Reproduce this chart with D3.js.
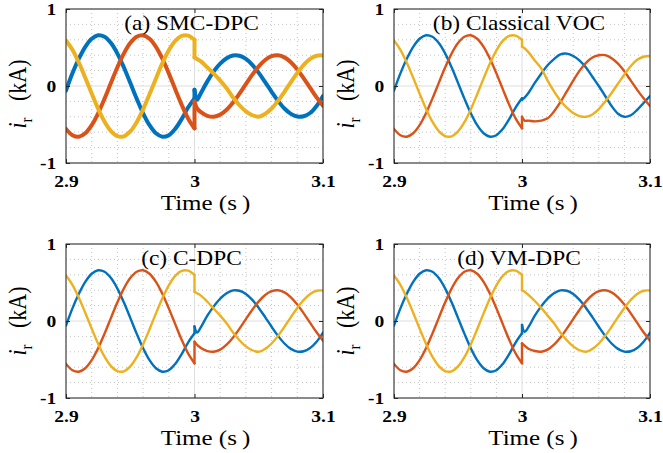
<!DOCTYPE html>
<html>
<head>
<meta charset="utf-8">
<script src="https://cdn.jsdelivr.net/npm/d3@7"></script>
<style>
  body { margin: 0; background: #fff; }
  svg { display: block; }
  text { font-family: "Liberation Serif", "Times New Roman", serif; fill: #000; }
</style>
</head>
<body>
<svg id="chart" width="663" height="453"></svg>
<script>
// time stamps (s) of the read-off points, before and after the step at t = 3 s
var timeBefore = [2.9, 2.905, 2.91, 2.915, 2.92, 2.925, 2.93, 2.935, 2.94, 2.945, 2.95,
  2.955, 2.96, 2.965, 2.97, 2.975, 2.98, 2.985, 2.99, 2.995, 3.0];
var timeAfter = [3.0, 3.002, 3.005, 3.01, 3.015, 3.02, 3.025, 3.03, 3.035, 3.04, 3.045,
  3.05, 3.055, 3.06, 3.065, 3.07, 3.075, 3.08, 3.085, 3.09, 3.095, 3.1];

// rotor currents before the step (same in all four cases), kA
var blueBefore = [-0.06, 0.164, 0.354, 0.509, 0.614, 0.659, 0.639, 0.557, 0.421, 0.243, 0.041,
  -0.164, -0.354, -0.509, -0.614, -0.659, -0.639, -0.557, -0.43, -0.28, -0.16];
var orangeBefore = [-0.557, -0.639, -0.659, -0.614, -0.509, -0.354, -0.164, 0.041, 0.243, 0.421, 0.557,
  0.639, 0.659, 0.614, 0.509, 0.354, 0.164, -0.041, -0.243, -0.421, -0.55];
var yellowBefore = [0.59, 0.47, 0.303, 0.107, -0.099, -0.296, -0.464, -0.586, -0.651, -0.653, -0.59,
  -0.47, -0.303, -0.107, 0.099, 0.296, 0.464, 0.586, 0.651, 0.655, 0.6];

// (a) SMC-DPC after the step
var blueAfterA = [-0.05, -0.18, -0.09, 0.06, 0.19, 0.29, 0.36, 0.397, 0.393, 0.351, 0.274,
  0.17, 0.05, -0.075, -0.193, -0.292, -0.362, -0.397, -0.393, -0.351, -0.26, -0.13];
var orangeAfterA = [-0.2, -0.29, -0.34, -0.387, -0.399, -0.372, -0.308, -0.214, -0.099, 0.025, 0.147,
  0.255, 0.338, 0.387, 0.399, 0.372, 0.308, 0.214, 0.099, -0.025, -0.147, -0.255];
var yellowAfterA = [0.37, 0.35, 0.32, 0.24, 0.16, 0.07, -0.03, -0.15, -0.25, -0.33, -0.38,
  -0.40, -0.362, -0.292, -0.193, -0.075, 0.05, 0.17, 0.274, 0.351, 0.393, 0.397];

// (b) Classical VOC
var blueAfterB = [-0.18, -0.15, -0.09, 0.04, 0.16, 0.27, 0.35, 0.41, 0.42, 0.39, 0.33,
  0.24, 0.12, 0.0, -0.13, -0.26, -0.36, -0.4, -0.38, -0.31, -0.22, -0.13];
var orangeAfterB = [-0.40, -0.45, -0.45, -0.46, -0.45, -0.42, -0.33, -0.21, -0.07, 0.07, 0.2,
  0.3, 0.37, 0.4, 0.4, 0.36, 0.29, 0.19, 0.07, -0.05, -0.16, -0.26];
var yellowAfterB = [0.51, 0.49, 0.44, 0.33, 0.23, 0.07, -0.07, -0.19, -0.28, -0.35, -0.39,
  -0.40, -0.37, -0.3, -0.2, -0.09, 0.03, 0.15, 0.26, 0.34, 0.38, 0.39];

// (c) C-DPC
var blueAfterC = [-0.07, -0.15, -0.08, 0.07, 0.19, 0.29, 0.36, 0.397, 0.393, 0.351, 0.274,
  0.17, 0.05, -0.075, -0.193, -0.292, -0.362, -0.397, -0.393, -0.351, -0.27, -0.15];
var orangeAfterC = [-0.27, -0.31, -0.35, -0.39, -0.399, -0.372, -0.308, -0.214, -0.099, 0.025, 0.147,
  0.255, 0.338, 0.387, 0.399, 0.372, 0.308, 0.214, 0.099, -0.025, -0.147, -0.255];
var yellowAfterC = [0.38, 0.36, 0.33, 0.25, 0.16, 0.07, -0.03, -0.15, -0.25, -0.33, -0.38,
  -0.40, -0.362, -0.292, -0.193, -0.075, 0.05, 0.17, 0.274, 0.351, 0.393, 0.397];

// (d) VM-DPC
var blueAfterD = [-0.05, -0.14, -0.08, 0.07, 0.19, 0.29, 0.36, 0.397, 0.393, 0.351, 0.274,
  0.17, 0.05, -0.075, -0.193, -0.292, -0.362, -0.397, -0.393, -0.351, -0.27, -0.15];
var orangeAfterD = [-0.29, -0.32, -0.36, -0.39, -0.399, -0.372, -0.308, -0.214, -0.099, 0.025, 0.147,
  0.255, 0.338, 0.387, 0.399, 0.372, 0.308, 0.214, 0.099, -0.025, -0.147, -0.255];
var yellowAfterD = [0.40, 0.38, 0.34, 0.26, 0.17, 0.07, -0.03, -0.15, -0.25, -0.33, -0.38,
  -0.40, -0.362, -0.292, -0.193, -0.075, 0.05, 0.17, 0.274, 0.351, 0.393, 0.397];

var titles = ["(a) SMC-DPC", "(b) Classical VOC", "(c) C-DPC", "(d) VM-DPC"];
var xTicks = [2.9, 3, 3.1];
var yTicks = [-1, 0, 1];
var xTickLabels = ["2.9", "3", "3.1"];
var yTickLabels = ["-1", "0", "1"];

var colors = ["#0072BD", "#D95319", "#EDB120"];

var panels = [
  { title: titles[0], after: [blueAfterA, orangeAfterA, yellowAfterA], lw: 4 },
  { title: titles[1], after: [blueAfterB, orangeAfterB, yellowAfterB], lw: 2.4 },
  { title: titles[2], after: [blueAfterC, orangeAfterC, yellowAfterC], lw: 2.4 },
  { title: titles[3], after: [blueAfterD, orangeAfterD, yellowAfterD], lw: 2.4 }
];
var before = [blueBefore, orangeBefore, yellowBefore];

// axes boxes in pixels
var boxes = [
  { x0: 66, x1: 323, y0: 9, y1: 163, labelY: 94 },
  { x0: 394, x1: 650, y0: 9, y1: 163, labelY: 94 },
  { x0: 66, x1: 323, y0: 244, y1: 398, labelY: 321 },
  { x0: 394, x1: 650, y0: 244, y1: 398, labelY: 321 }
];

var svg = d3.select("#chart");

panels.forEach(function (p, i) {
  var b = boxes[i];
  var x = d3.scaleLinear().domain([2.9, 3.1]).range([b.x0, b.x1]);
  var y = d3.scaleLinear().domain([-1, 1]).range([b.y1, b.y0]);
  var g = svg.append("g");

  // minor grid (dotted)
  var xMinor = x.ticks(10).filter(function (v) { return xTicks.indexOf(+v.toFixed(2)) < 0; });
  var yMinor = y.ticks(10).filter(function (v) { return yTicks.indexOf(+v.toFixed(1)) < 0; });
  g.selectAll(".mx").data(xMinor).enter().append("line")
    .attr("x1", x).attr("x2", x).attr("y1", b.y0).attr("y2", b.y1)
    .attr("stroke", "#c4c4c4").attr("stroke-width", 1).attr("stroke-dasharray", "1,3");
  g.selectAll(".my").data(yMinor).enter().append("line")
    .attr("y1", y).attr("y2", y).attr("x1", b.x0).attr("x2", b.x1)
    .attr("stroke", "#c4c4c4").attr("stroke-width", 1).attr("stroke-dasharray", "1,3");

  // major grid
  g.selectAll(".gx").data(xTicks).enter().append("line")
    .attr("x1", x).attr("x2", x).attr("y1", b.y0).attr("y2", b.y1)
    .attr("stroke", "#dedede").attr("stroke-width", 1);
  g.selectAll(".gy").data(yTicks).enter().append("line")
    .attr("y1", y).attr("y2", y).attr("x1", b.x0).attr("x2", b.x1)
    .attr("stroke", "#dedede").attr("stroke-width", 1);

  // clip
  var clipId = "clip" + i;
  svg.append("clipPath").attr("id", clipId).append("rect")
    .attr("x", b.x0).attr("y", b.y0).attr("width", b.x1 - b.x0).attr("height", b.y1 - b.y0);

  var curve = d3.line().x(function (d) { return x(d[0]); }).y(function (d) { return y(d[1]); })
    .curve(d3.curveCatmullRom.alpha(0.5));
  var straight = d3.line().x(function (d) { return x(d[0]); }).y(function (d) { return y(d[1]); });

  var lines = g.append("g").attr("clip-path", "url(#" + clipId + ")")
    .attr("fill", "none").attr("stroke-linejoin", "round").attr("stroke-linecap", "round");

  [0, 1, 2].forEach(function (k) {
    var pre = timeBefore.map(function (t, j) { return [t, before[k][j]]; });
    var post = timeAfter.map(function (t, j) { return [t, p.after[k][j]]; });
    var s = lines.append("g").attr("stroke", colors[k]).attr("stroke-width", p.lw);
    s.append("path").attr("d", curve(pre));
    s.append("path").attr("d", straight([pre[pre.length - 1], post[0]]));
    s.append("path").attr("d", curve(post));
  });

  // axes with inward ticks
  var ax = function (axis, tx, ty) {
    var a = g.append("g").attr("transform", "translate(" + tx + "," + ty + ")").call(axis);
    a.select(".domain").remove();
    a.selectAll(".tick line").attr("stroke", "#262626");
    return a;
  };
  var bottom = ax(d3.axisBottom(x).tickValues(xTicks).tickSize(-4)
    .tickFormat(function (d, j) { return xTickLabels[j]; }), 0, b.y1);
  bottom.selectAll("text").attr("y", 24).attr("dy", null)
    .attr("font-size", 16).attr("font-weight", "bold")
    .attr("font-family", "Liberation Serif").attr("transform", "scale(1.22,1)");
  var left = ax(d3.axisLeft(y).tickValues(yTicks).tickSize(-4)
    .tickFormat(function (d, j) { return yTickLabels[j]; }), b.x0, 0);
  left.selectAll("text").attr("x", -8).attr("dy", "0.35em")
    .attr("font-size", 16).attr("font-weight", "bold")
    .attr("font-family", "Liberation Serif").attr("transform", "scale(1.22,1)");
  ax(d3.axisTop(x).tickValues(xTicks).tickSize(-4).tickFormat(""), 0, b.y0);
  ax(d3.axisRight(y).tickValues(yTicks).tickSize(-4).tickFormat(""), b.x1, 0);

  // box
  g.append("rect").attr("x", b.x0).attr("y", b.y0)
    .attr("width", b.x1 - b.x0).attr("height", b.y1 - b.y0)
    .attr("fill", "none").attr("stroke", "#262626").attr("stroke-width", 1);

  var cx = (b.x0 + b.x1) / 2;

  // title
  g.append("text")
    .attr("transform", "translate(" + (cx - 3) + "," + (b.y0 + 21) + ") scale(1.17,1)")
    .attr("text-anchor", "middle").attr("font-size", 20)
    .text(p.title);

  // x label
  g.append("text")
    .attr("transform", "translate(" + (cx + 11) + "," + (b.y1 + 47) + ") scale(1.25,1)")
    .attr("text-anchor", "middle").attr("font-size", 20)
    .text("Time (s\u2009)");

  // y label
  var yl = g.append("text")
    .attr("transform", "translate(" + (b.x0 - 40) + "," + b.labelY + ") scale(1.15,1) rotate(-90)")
    .attr("text-anchor", "middle").attr("font-size", 22)
    .style("white-space", "pre");
  yl.append("tspan").attr("font-style", "italic").text("i");
  yl.append("tspan").attr("font-size", 15).attr("dy", 5).text("r");
  yl.append("tspan").attr("dy", -5).text("\u00a0\u00a0\u00a0(kA)");
});
</script>
</body>
</html>
